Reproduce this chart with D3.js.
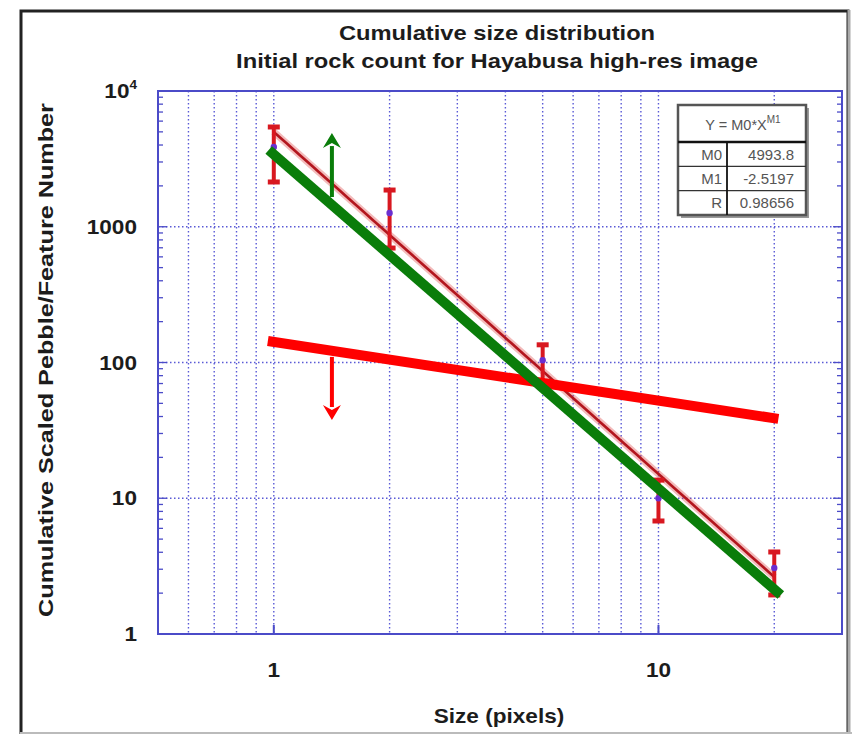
<!DOCTYPE html>
<html>
<head>
<meta charset="utf-8">
<script src="https://cdn.jsdelivr.net/npm/d3@7/dist/d3.min.js"></script>
<style>
  html, body { margin: 0; padding: 0; background: #fff; }
  svg { display: block; }
  text { font-family: "Liberation Sans", Arial, sans-serif; }
</style>
</head>
<body>
<svg id="chart" width="852" height="734"></svg>
<script>
// Cumulative counts per size bin
const sizes = [1, 2, 5, 10, 20];
const counts = [3866, 1262, 104, 10, 3.06];
const errHigh = [5430, 1864, 135, 13.6, 4.02];
const errLow = [2137, 697, 68, 6.8, 1.94];

// Power-law fit parameters Y = M0 * X^M1
const fitM0 = 4993.8;
const fitM1 = -2.5197;
const fitR = 0.98656;
const fitRange = [1, 20];

// Overlay guide lines (endpoints in data units)
const greenLine = [[0.97, 3675], [20.8, 1.94]];
const redLine = [[0.965, 144], [20.5, 38.4]];
const greenArrow = [[1.416, 1656], [1.416, 4900]];
const redArrow = [[1.416, 110], [1.416, 37.7]];

// Axis ticks
const xTickLabels = [1, 10];
const yTickLabels = [1, 10, 100, 1000, 10000];

const svg = d3.select("#chart");
const x = d3.scaleLog().domain([0.5, 30]).range([158, 842]);
const y = d3.scaleLog().domain([1, 10000]).range([634, 91]);

const blue = "#4b4bc8";
const gridBlue = "#5a5ad6";
const ink = "#1c1c1c";
const stretch = 1.13;

// text helper: slightly widened bold sans
function label(g, px, py, str, opts = {}) {
  const t = g.append("text")
    .attr("transform", `translate(${px},${py})${opts.rotate ? ` rotate(${opts.rotate})` : ""} scale(${opts.sx || stretch},1)`)
    .attr("text-anchor", opts.anchor || "middle")
    .attr("font-size", opts.size || 20)
    .attr("font-weight", "bold")
    .attr("fill", ink);
  if (str !== null) t.text(str);
  return t;
}

// outer frame
svg.append("rect").attr("x", 21).attr("y", 11).attr("width", 827).attr("height", 730)
  .attr("fill", "none").attr("stroke", "#222").attr("stroke-width", 3);
svg.append("line").attr("x1", 849).attr("x2", 849).attr("y1", 10).attr("y2", 734)
  .attr("stroke", "#aaa").attr("stroke-width", 3);
svg.append("line").attr("x1", 20).attr("x2", 852).attr("y1", 733).attr("y2", 733)
  .attr("stroke", "#bbb").attr("stroke-width", 2);

// gridlines
const xGrid = [];
[0.1, 1, 10].forEach(d => { for (let k = 1; k <= 9; k++) xGrid.push(d * k); });
const xGridVals = xGrid.filter(v => v > 0.5 + 1e-9 && v < 30 - 1e-9);
svg.append("g").selectAll("line").data(xGridVals).join("line")
  .attr("x1", d => x(d)).attr("x2", d => x(d))
  .attr("y1", y(10000)).attr("y2", y(1))
  .attr("stroke", gridBlue).attr("stroke-width", 1.4).attr("stroke-dasharray", "1.5,2.5");

svg.append("g").selectAll("line").data([10, 100, 1000]).join("line")
  .attr("x1", x(0.5)).attr("x2", x(30))
  .attr("y1", d => y(d)).attr("y2", d => y(d))
  .attr("stroke", gridBlue).attr("stroke-width", 1.4).attr("stroke-dasharray", "1.5,2.5");

// y minor ticks, inward on both sides
const yMinor = [];
[1, 10, 100, 1000].forEach(d => { for (let k = 2; k <= 9; k++) yMinor.push(d * k); });
const tickG = svg.append("g").attr("stroke", blue).attr("stroke-width", 1.3);
tickG.selectAll("line.l").data(yMinor).join("line").attr("class", "l")
  .attr("x1", x(0.5)).attr("x2", x(0.5) + 5)
  .attr("y1", d => y(d)).attr("y2", d => y(d));
tickG.selectAll("line.r").data(yMinor).join("line").attr("class", "r")
  .attr("x1", x(30)).attr("x2", x(30) - 5)
  .attr("y1", d => y(d)).attr("y2", d => y(d));
tickG.selectAll("line.lm").data([10, 100, 1000]).join("line").attr("class", "lm")
  .attr("x1", x(0.5)).attr("x2", x(0.5) + 9)
  .attr("y1", d => y(d)).attr("y2", d => y(d));
tickG.selectAll("line.rm").data([10, 100, 1000]).join("line").attr("class", "rm")
  .attr("x1", x(30)).attr("x2", x(30) - 9)
  .attr("y1", d => y(d)).attr("y2", d => y(d));
tickG.selectAll("line.xm").data([1, 10]).join("line").attr("class", "xm")
  .attr("x1", d => x(d)).attr("x2", d => x(d))
  .attr("y1", y(1)).attr("y2", y(1) - 9).attr("stroke-width", 2);

// plot frame
svg.append("rect").attr("x", x(0.5)).attr("y", y(10000))
  .attr("width", x(30) - x(0.5)).attr("height", y(1) - y(10000))
  .attr("fill", "none").attr("stroke", blue).attr("stroke-width", 2);

// tick labels
const labelG = svg.append("g");
xTickLabels.forEach(d => label(labelG, x(d), y(1) + 43, d));
yTickLabels.forEach(d => {
  const t = label(labelG, x(0.5) - 21, y(d) + 7, null, { anchor: "end" });
  if (d >= 10000) {
    t.append("tspan").text("10");
    t.append("tspan").attr("dy", -9).attr("font-size", 12).text(Math.round(Math.log10(d)));
  } else {
    t.text(d);
  }
});

// titles
const titleG = svg.append("g");
label(titleG, 497, 40, "Cumulative size distribution", { size: 21 });
label(titleG, 497, 68, "Initial rock count for Hayabusa high-res image", { size: 21 });
label(titleG, 499, 723, "Size (pixels)");
label(titleG, 53, 360, "Cumulative Scaled Pebble/Feature Number", { rotate: -90, sx: 1.2, size: 21 });

// fitted power law
const fitX = d3.range(0, 41).map(i => fitRange[0] * Math.pow(fitRange[1] / fitRange[0], i / 40));
const fitPts = fitX.map(v => [v, fitM0 * Math.pow(v, fitM1)]);
const line = d3.line().x(d => x(d[0])).y(d => y(d[1]));
svg.append("path").datum(fitPts).attr("d", line)
  .attr("fill", "none").attr("stroke", "rgba(220,60,60,0.35)").attr("stroke-width", 7);
svg.append("path").datum(fitPts).attr("d", line)
  .attr("fill", "none").attr("stroke", "#b3161e").attr("stroke-width", 2.6);

// error bars
const eb = svg.append("g").attr("stroke", "#d81820");
sizes.forEach((s, i) => {
  eb.append("line").attr("x1", x(s)).attr("x2", x(s))
    .attr("y1", y(errHigh[i])).attr("y2", y(errLow[i])).attr("stroke-width", 4);
  [errHigh[i], errLow[i]].forEach(v => {
    eb.append("line").attr("x1", x(s) - 6).attr("x2", x(s) + 6)
      .attr("y1", y(v)).attr("y2", y(v)).attr("stroke-width", 5);
  });
});

// data points
svg.append("g").selectAll("circle").data(sizes).join("circle")
  .attr("cx", d => x(d)).attr("cy", (d, i) => y(counts[i])).attr("r", 3.2)
  .attr("fill", "#6a2fd0");

// overlay guide lines
svg.append("path").datum(redLine).attr("d", line)
  .attr("stroke", "#ff0000").attr("stroke-width", 10).attr("fill", "none");
svg.append("path").datum(greenLine).attr("d", line)
  .attr("stroke", "#0a7d0a").attr("stroke-width", 10).attr("fill", "none");

// arrows
function arrow(pts, color) {
  const x0 = x(pts[0][0]), y0 = y(pts[0][1]), y1 = y(pts[1][1]);
  const dir = Math.sign(y1 - y0);
  const headLen = 15, headW = 9;
  svg.append("line").attr("x1", x0).attr("x2", x0)
    .attr("y1", y0).attr("y2", y1 - dir * headLen + dir * 2)
    .attr("stroke", color).attr("stroke-width", 4);
  svg.append("path")
    .attr("d", `M${x0},${y1} L${x0 - headW},${y1 - dir * headLen} L${x0},${y1 - dir * (headLen - 5)} L${x0 + headW},${y1 - dir * headLen} Z`)
    .attr("fill", color);
}
arrow(greenArrow, "#0a7d0a");
arrow(redArrow, "#ff0000");

// fit parameter table
const tb = { x: 678, y: 105, w: 128, h: 110 };
const tg = svg.append("g");
tg.append("rect").attr("x", tb.x + 3).attr("y", tb.y + 3).attr("width", tb.w).attr("height", tb.h)
  .attr("fill", "#999");
tg.append("rect").attr("x", tb.x).attr("y", tb.y).attr("width", tb.w).attr("height", tb.h)
  .attr("fill", "#fff").attr("stroke", "#555").attr("stroke-width", 2.5);
const headH = 37, rowH = (tb.h - headH) / 3, colX = tb.x + 49;
tg.append("line").attr("x1", tb.x).attr("x2", tb.x + tb.w)
  .attr("y1", tb.y + headH).attr("y2", tb.y + headH).attr("stroke", "#111").attr("stroke-width", 2.5);
[1, 2].forEach(k => tg.append("line").attr("x1", tb.x).attr("x2", tb.x + tb.w)
  .attr("y1", tb.y + headH + k * rowH).attr("y2", tb.y + headH + k * rowH)
  .attr("stroke", "#333").attr("stroke-width", 1.2));
tg.append("line").attr("x1", colX).attr("x2", colX)
  .attr("y1", tb.y + headH).attr("y2", tb.y + tb.h).attr("stroke", "#111").attr("stroke-width", 1.8);

const head = tg.append("text").attr("x", tb.x + tb.w / 2 + 1).attr("y", tb.y + 25)
  .attr("text-anchor", "middle").attr("font-size", 14.5).attr("fill", "#555");
head.append("tspan").text("Y = M0*X");
head.append("tspan").attr("dy", -7).attr("font-size", 10).text("M1");

const rowNames = ["M0", "M1", "R"];
const rowVals = [fitM0.toFixed(1), fitM1.toFixed(4), fitR.toFixed(5)];
rowNames.forEach((n, i) => {
  const cy = tb.y + headH + i * rowH + rowH / 2 + 5.5;
  tg.append("text").attr("x", colX - 5).attr("y", cy).attr("text-anchor", "end")
    .attr("font-size", 15).attr("fill", "#555").text(n);
  tg.append("text").attr("x", tb.x + tb.w - 12).attr("y", cy).attr("text-anchor", "end")
    .attr("font-size", 15).attr("fill", "#555").text(rowVals[i]);
});
</script>
</body>
</html>
